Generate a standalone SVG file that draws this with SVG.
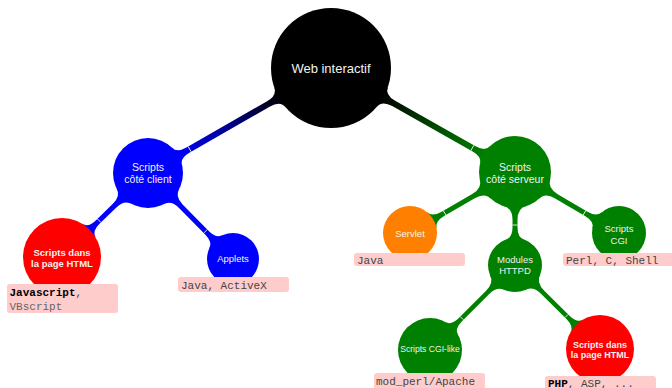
<svg xmlns="http://www.w3.org/2000/svg" width="672" height="388" viewBox="0 0 672 388">
<style>
.nt{font-family:"Liberation Sans",Arial,sans-serif;fill:#f2f2f2;text-anchor:middle}
.lb{fill:#ffcccc}
.lt{font-family:"Liberation Mono","Courier New",monospace;font-size:11px;fill:#444}
.b{font-weight:bold;fill:#000}
.tk{stroke:#fff;stroke-width:0.8}
</style>
<defs>
<linearGradient id="gBlue" x1="0" y1="0" x2="1" y2="0">
<stop offset="0" stop-color="#000"/><stop offset="0.5" stop-color="#000090"/><stop offset="1" stop-color="#0000ff"/>
</linearGradient>
<linearGradient id="gGreen" x1="0" y1="0" x2="1" y2="0">
<stop offset="0" stop-color="#000"/><stop offset="0.5" stop-color="#004800"/><stop offset="1" stop-color="#008000"/>
</linearGradient>
</defs>
<rect width="672" height="388" fill="#fff"/>
<g id="connectors">
<g transform="translate(331,68) rotate(150.15)">
<path fill="url(#gBlue)" d="M58.8,-12 Q60,-3 72,-3 L165,-3 Q176,-3 177.5,-10 L177.5,10 Q176,3 165,3 L72,3 Q60,3 58.8,12Z"/>
<line class="tk" x1="163" y1="-3" x2="163" y2="3"/>
</g>
<g transform="translate(331,68) rotate(29.48)">
<path fill="url(#gGreen)" d="M58.8,-12 Q60,-3 72,-3 L164.4,-3 Q175.4,-3 176.8,-10 L176.8,10 Q175.4,3 164.4,3 L72,3 Q60,3 58.8,12Z"/>
<line class="tk" x1="162.4" y1="-3" x2="162.4" y2="3"/>
</g>
<g transform="translate(148,173) rotate(135.68)">
<path fill="#0000ff" d="M33.1,-11.5 Q35,-2.5 47,-2.5 L70.2,-2.5 Q81.2,-2.5 82.4,-9.5 L82.4,9.5 Q81.2,2.5 70.2,2.5 L47,2.5 Q35,2.5 33.1,11.5Z"/>
<line class="tk" x1="68.2" y1="-2.5" x2="68.2" y2="2.5"/>
</g>
<g transform="translate(148,173) rotate(45.33)">
<path fill="#0000ff" d="M33.1,-11.5 Q35,-2.5 47,-2.5 L83.9,-2.5 Q94.9,-2.5 96.7,-9.5 L96.7,9.5 Q94.9,2.5 83.9,2.5 L47,2.5 Q35,2.5 33.1,11.5Z"/>
<line class="tk" x1="81.9" y1="-2.5" x2="81.9" y2="2.5"/>
</g>
<g transform="translate(515,172) rotate(149.85)">
<path fill="#008000" d="M34.1,-11.5 Q36,-2.5 48,-2.5 L83.4,-2.5 Q94.4,-2.5 96.1,-9.5 L96.1,9.5 Q94.4,2.5 83.4,2.5 L48,2.5 Q36,2.5 34.1,11.5Z"/>
<line class="tk" x1="81.4" y1="-2.5" x2="81.4" y2="2.5"/>
</g>
<g transform="translate(515,172) rotate(90)">
<path fill="#008000" d="M34.1,-11.5 Q36,-2.5 48,-2.5 L55,-2.5 Q66,-2.5 67.7,-9.5 L67.7,9.5 Q66,2.5 55,2.5 L48,2.5 Q36,2.5 34.1,11.5Z"/>
<line class="tk" x1="53" y1="-2.5" x2="53" y2="2.5"/>
</g>
<g transform="translate(515,172) rotate(30.39)">
<path fill="#008000" d="M34.1,-11.5 Q36,-2.5 48,-2.5 L82.6,-2.5 Q93.6,-2.5 95.3,-9.5 L95.3,9.5 Q93.6,2.5 82.6,2.5 L48,2.5 Q36,2.5 34.1,11.5Z"/>
<line class="tk" x1="80.6" y1="-2.5" x2="80.6" y2="2.5"/>
</g>
<g transform="translate(515,265) rotate(135)">
<path fill="#008000" d="M24.6,-11.2 Q27,-2.2 39,-2.2 L77.2,-2.2 Q88.2,-2.2 89.6,-9.2 L89.6,9.2 Q88.2,2.2 77.2,2.2 L39,2.2 Q27,2.2 24.6,11.2Z"/>
<line class="tk" x1="75.2" y1="-2.2" x2="75.2" y2="2.2"/>
</g>
<g transform="translate(515,265) rotate(44.66)">
<path fill="#008000" d="M24.6,-11.2 Q27,-2.2 39,-2.2 L74.5,-2.2 Q85.5,-2.2 86.8,-9.2 L86.8,9.2 Q85.5,2.2 74.5,2.2 L39,2.2 Q27,2.2 24.6,11.2Z"/>
<line class="tk" x1="72.5" y1="-2.2" x2="72.5" y2="2.2"/>
</g>
</g>
<g id="root">
<circle cx="331" cy="68" r="60" fill="#000"/>
<text class="nt" x="331" y="72.5" font-size="13">Web interactif</text>
</g>
<g id="client">
<circle cx="148" cy="173" r="35" fill="#0000ff"/>
<text class="nt" x="148" y="171" font-size="10.5">Scripts</text>
<text class="nt" x="148" y="183" font-size="10.5">côté client</text>
</g>
<g id="server">
<circle cx="515" cy="172" r="36" fill="#008000"/>
<text class="nt" x="515" y="171" font-size="10.5">Scripts</text>
<text class="nt" x="515" y="183" font-size="10.5">côté serveur</text>
</g>
<g id="html-client">
<circle cx="62" cy="257" r="39" fill="#ff0000"/>
<text class="nt" x="62" y="255.5" font-size="9.5" font-weight="bold">Scripts dans</text>
<text class="nt" x="62" y="266.5" font-size="9.5" font-weight="bold">la page HTML</text>
<rect class="lb" x="7" y="284" width="111" height="29" rx="3"/>
<text class="lt" x="9.5" y="295.5"><tspan class="b">Javascript</tspan>,</text>
<text class="lt" x="9.5" y="309.5" fill="#666" style="fill:#666">VBscript</text>
</g>
<g id="applets">
<circle cx="233" cy="259" r="26" fill="#0000ff"/>
<text class="nt" x="233" y="261.5" font-size="9.5">Applets</text>
<rect class="lb" x="178" y="277" width="111" height="15" rx="3"/>
<text class="lt" x="181" y="288.5">Java, ActiveX</text>
</g>
<g id="servlet">
<circle cx="410" cy="233" r="27" fill="#ff8000"/>
<text class="nt" x="410" y="236.5" font-size="9.5">Servlet</text>
<rect class="lb" x="354" y="253" width="111" height="13" rx="3"/>
<text class="lt" x="357" y="263.5">Java</text>
</g>
<g id="cgi">
<circle cx="619" cy="233" r="27" fill="#008000"/>
<text class="nt" x="619" y="231.5" font-size="9.5">Scripts</text>
<text class="nt" x="619" y="243.5" font-size="9.5">CGI</text>
<rect class="lb" x="563" y="253" width="111" height="13" rx="3"/>
<text class="lt" x="566" y="263.5">Perl, C, Shell</text>
</g>
<g id="modules">
<circle cx="515" cy="265" r="27" fill="#008000"/>
<text class="nt" x="515" y="262.5" font-size="9.5">Modules</text>
<text class="nt" x="515" y="273.5" font-size="9.5">HTTPD</text>
</g>
<g id="cgi-like">
<circle cx="430" cy="350" r="32" fill="#008000"/>
<text class="nt" x="430" y="352" font-size="8.6">Scripts CGI-like</text>
<rect class="lb" x="374" y="373" width="111" height="16" rx="3"/>
<text class="lt" x="376" y="385">mod_perl/Apache</text>
</g>
<g id="html-server">
<circle cx="600" cy="349" r="34" fill="#ff0000"/>
<text class="nt" x="600" y="347.5" font-size="9" font-weight="bold">Scripts dans</text>
<text class="nt" x="600" y="357.5" font-size="9" font-weight="bold">la page HTML</text>
<rect class="lb" x="545" y="376" width="111" height="14" rx="3"/>
<text class="lt" x="548" y="386.5"><tspan class="b">PHP</tspan>, ASP, ...</text>
</g>
</svg>
